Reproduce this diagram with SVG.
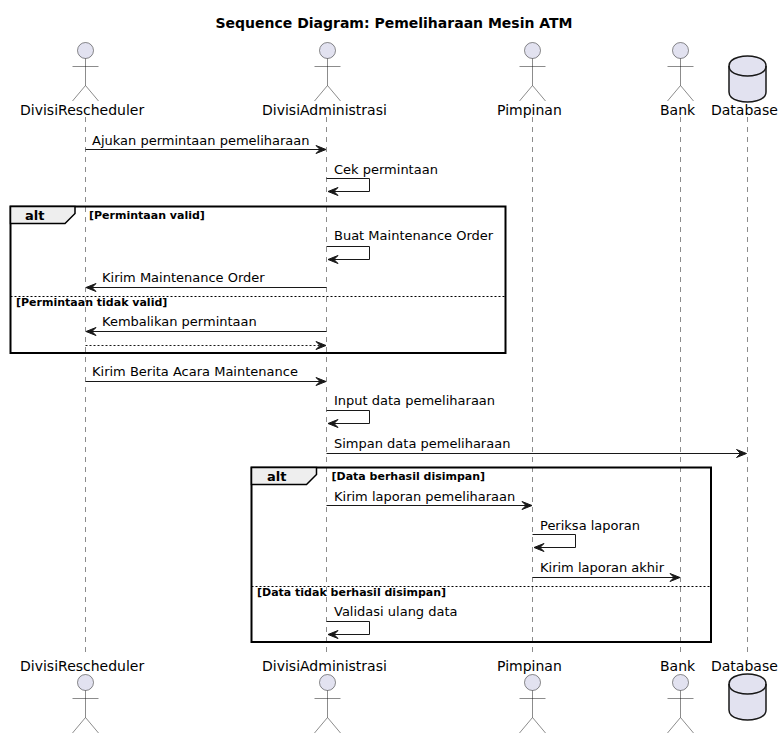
<svg xmlns="http://www.w3.org/2000/svg" xmlns:xlink="http://www.w3.org/1999/xlink" width="784" height="738" viewBox="0 0 784 738">
<style>
text{font-family:"DejaVu Sans",sans-serif;fill:#000}
.title{font-size:14px;font-weight:bold}
.name{font-size:14px;fill:#000}
.msg{font-size:13px;fill:#000}
.guard{font-size:11px;font-weight:bold}
.alt{font-size:13px;font-weight:bold}
.life{stroke:#181818;stroke-width:.5;stroke-dasharray:5 5;fill:none}
.act{fill:none;stroke:#181818;stroke-width:.5}
.head{fill:#E2E2F0;stroke:#181818;stroke-width:.5}
.db{fill:#E2E2F0;stroke:#181818;stroke-width:1.5}
.dbl{fill:none;stroke:#181818;stroke-width:1.5}
.m{fill:none;stroke:#181818;stroke-width:1}
.d{stroke-dasharray:2 2}
.fr{fill:none;stroke:#000;stroke-width:2}
.tab{fill:#EEEEEE;stroke:#000;stroke-width:1.5}
.sep{stroke:#000;stroke-width:1;stroke-dasharray:2 2;fill:none}
.ah{fill:#181818;stroke:#181818;stroke-width:1}
</style>
<defs>
<g id="actor"><circle class="head" cx="0" cy="8" r="8"/><path class="act" d="M0 16V43M-13 24H13M0 43L-13 58.500M0 43L13 58.500"/></g>
<g id="cyl"><path class="db" d="M0 10C0 0 18.500 0 18.500 0C18.500 0 37 0 37 10V36C37 46 18.500 46 18.500 46C18.500 46 0 46 0 36Z"/><path class="dbl" d="M0 10C0 20 18.500 20 18.500 20C18.500 20 37 20 37 10"/></g>
<path id="ar" class="ah" d="M-10 -4L0 0L-10 4L-6 0Z"/>
<path id="al" class="ah" d="M10 -4L0 0L10 4L6 0Z"/>
</defs>
<text class="title" x="394" y="28" text-anchor="middle">Sequence Diagram: Pemeliharaan Mesin ATM</text>
<g id="lifelines">
<path class="life" d="M85.500 117V655"/>
<path class="life" d="M326.500 117V655"/>
<path class="life" d="M532.500 117V655"/>
<path class="life" d="M680.500 117V655"/>
<path class="life" d="M747.500 117V655"/>
</g>
<g id="frame-alt-1">
<rect class="fr" x="10.500" y="206.500" width="495" height="146.500"/>
<path class="tab" d="M10.500 206.500H75V213.500L65 223.500H10.500Z"/>
<text class="alt" x="25" y="220">alt</text>
<text class="guard" x="89" y="219">[Permintaan valid]</text>
<path class="sep" d="M10.500 296.500H505.500"/>
<text class="guard" x="16" y="306">[Permintaan tidak valid]</text>
</g>
<g id="frame-alt-2">
<rect class="fr" x="251.500" y="467.500" width="459.500" height="174.500"/>
<path class="tab" d="M251.500 467.500H316.500V474.500L306.500 484.500H251.500Z"/>
<text class="alt" x="267" y="481">alt</text>
<text class="guard" x="331.500" y="480">[Data berhasil disimpan]</text>
<path class="sep" d="M251.500 586.500H711"/>
<text class="guard" x="257" y="596">[Data tidak berhasil disimpan]</text>
</g>
<g id="connectors">
<path class="m" d="M85.500 149.500H325"/><use href="#ar" x="326" y="149.500"/>
<text class="msg" x="92" y="145">Ajukan permintaan pemeliharaan</text>
<path class="m" d="M326.500 178.500H369.500V191.500H328"/><use href="#al" x="328" y="191.500"/>
<text class="msg" x="334" y="174">Cek permintaan</text>
<path class="m" d="M326.500 246.500H369.500V259.500H328"/><use href="#al" x="328" y="259.500"/>
<text class="msg" x="334" y="240">Buat Maintenance Order</text>
<path class="m" d="M326.500 287.500H87"/><use href="#al" x="86" y="287.500"/>
<text class="msg" x="102" y="282">Kirim Maintenance Order</text>
<path class="m" d="M326.500 331.500H87"/><use href="#al" x="86" y="331.500"/>
<text class="msg" x="102" y="326">Kembalikan permintaan</text>
<path class="m d" d="M85.500 345.500H325"/><use href="#ar" x="326" y="345.500"/>
<path class="m" d="M85.500 381.500H325"/><use href="#ar" x="326" y="381.500"/>
<text class="msg" x="92" y="376">Kirim Berita Acara Maintenance</text>
<path class="m" d="M326.500 410.500H369.500V423.500H328"/><use href="#al" x="328" y="423.500"/>
<text class="msg" x="334" y="405">Input data pemeliharaan</text>
<path class="m" d="M326.500 453.500H745"/><use href="#ar" x="746.500" y="453.500"/>
<text class="msg" x="334" y="448">Simpan data pemeliharaan</text>
<path class="m" d="M326.500 505.500H531"/><use href="#ar" x="532" y="505.500"/>
<text class="msg" x="334" y="501">Kirim laporan pemeliharaan</text>
<path class="m" d="M532.500 534.500H575.500V547.500H534"/><use href="#al" x="534" y="547.500"/>
<text class="msg" x="540" y="530">Periksa laporan</text>
<path class="m" d="M532.500 577.500H679"/><use href="#ar" x="680" y="577.500"/>
<text class="msg" x="540" y="572">Kirim laporan akhir</text>
<path class="m" d="M326.500 621.500H369.500V634.500H328"/><use href="#al" x="328" y="634.500"/>
<text class="msg" x="334" y="616">Validasi ulang data</text>
</g>
<g id="node-divisirescheduler-top"><use href="#actor" x="85.500" y="42.500"/><text class="name" x="20" y="115">DivisiRescheduler</text></g>
<g id="node-divisiadministrasi-top"><use href="#actor" x="327.500" y="42.500"/><text class="name" x="262" y="115">DivisiAdministrasi</text></g>
<g id="node-pimpinan-top"><use href="#actor" x="532.500" y="42.500"/><text class="name" x="497" y="115">Pimpinan</text></g>
<g id="node-bank-top"><use href="#actor" x="680.500" y="42.500"/><text class="name" x="660" y="115">Bank</text></g>
<g id="node-database-top"><use href="#cyl" x="729" y="56"/><text class="name" x="711" y="115">Database</text></g>
<g id="node-divisirescheduler-bottom"><text class="name" x="20" y="671">DivisiRescheduler</text><use href="#actor" x="85.500" y="674.500"/></g>
<g id="node-divisiadministrasi-bottom"><text class="name" x="262" y="671">DivisiAdministrasi</text><use href="#actor" x="327.500" y="674.500"/></g>
<g id="node-pimpinan-bottom"><text class="name" x="497" y="671">Pimpinan</text><use href="#actor" x="532.500" y="674.500"/></g>
<g id="node-bank-bottom"><text class="name" x="660" y="671">Bank</text><use href="#actor" x="680.500" y="674.500"/></g>
<g id="node-database-bottom"><text class="name" x="711" y="671">Database</text><use href="#cyl" x="729" y="674"/></g>
</svg>
